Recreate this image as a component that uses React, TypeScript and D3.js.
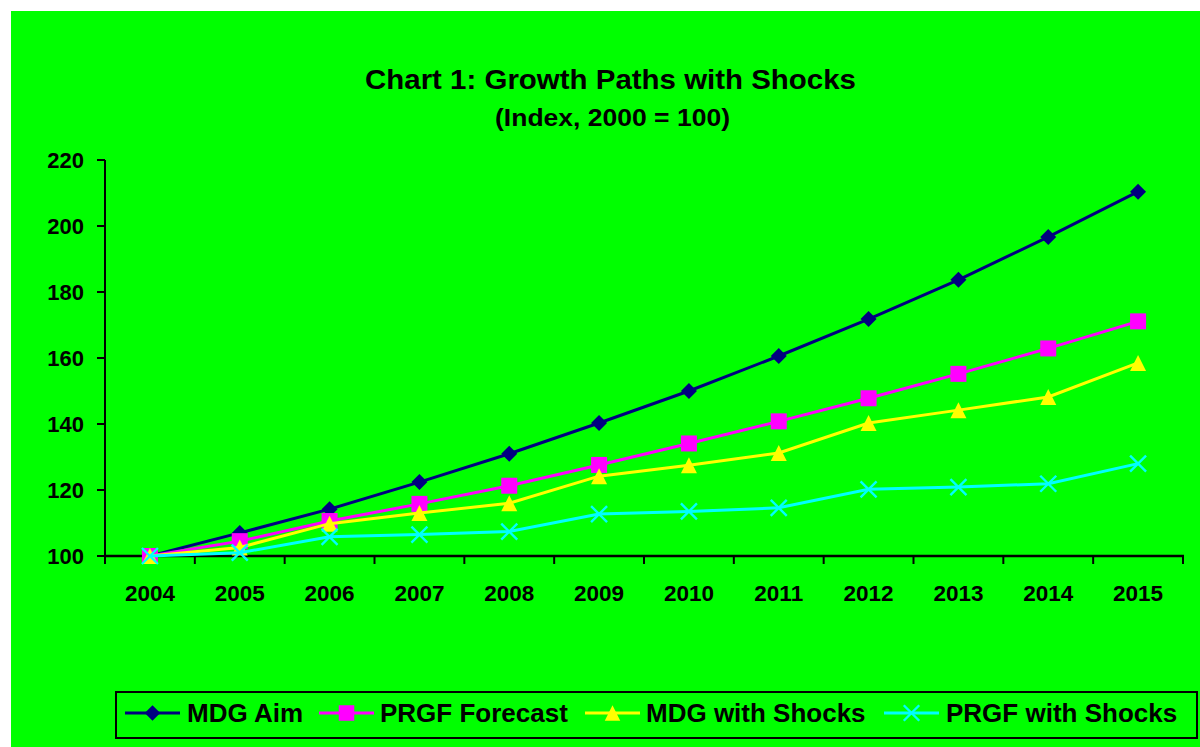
import * as d3 from "d3";

const years = ["2004", "2005", "2006", "2007", "2008", "2009", "2010", "2011", "2012", "2013", "2014", "2015"];
const mdgAim = [100, 107, 114.2, 122.4, 131, 140.3, 150, 160.6, 171.8, 183.7, 196.7, 210.4];
const prgfForecast = [100, 104.5, 110.6, 115.8, 121.3, 127.6, 134.1, 140.8, 147.8, 155.2, 162.9, 171.1];
const mdgShocks = [100, 102.6, 109.8, 113, 116, 124.2, 127.5, 131.2, 140.3, 144.2, 148.2, 158.5];
const prgfShocks = [100, 101, 105.8, 106.5, 107.4, 112.7, 113.5, 114.6, 120.2, 120.9, 121.9, 128];
const yTicks = [100, 120, 140, 160, 180, 200, 220];

const series = [
  { name: "MDG Aim", values: mdgAim, color: "#000080", marker: "diamond" },
  { name: "PRGF Forecast", values: prgfForecast, color: "#FF00FF", marker: "square" },
  { name: "MDG with Shocks", values: mdgShocks, color: "#FFFF00", marker: "triangle" },
  { name: "PRGF with Shocks", values: prgfShocks, color: "#00FFFF", marker: "x" },
];

const FONT = "Arial, 'Liberation Sans', sans-serif";

function Marker({ type, x, y, color, size }: { type: string; x: number; y: number; color: string; size: number }) {
  const h = size / 2;
  if (type === "diamond")
    return <path d={`M${x},${y - h}L${x + h},${y}L${x},${y + h}L${x - h},${y}Z`} fill={color} />;
  if (type === "square")
    return <rect x={x - h} y={y - h} width={size} height={size} fill={color} />;
  if (type === "triangle")
    return <path d={`M${x},${y - h}L${x + h},${y + h}L${x - h},${y + h}Z`} fill={color} />;
  return (
    <path
      d={`M${x - h},${y - h}L${x + h},${y + h}M${x - h},${y + h}L${x + h},${y - h}`}
      stroke={color}
      strokeWidth={2.4}
      fill="none"
    />
  );
}

export default function App() {
  const width = 1200;
  const height = 747;

  const x = d3.scaleBand().domain(years).range([105, 1183]);
  const y = d3.scaleLinear().domain([100, 220]).range([556, 160]);
  const cx = (yr: string) => (x(yr) ?? 0) + x.bandwidth() / 2;

  const line = d3
    .line<number>()
    .x((_, i) => cx(years[i]))
    .y((v) => y(v));

  // legend layout: line sample start and label start
  const legendItems = [
    { s: 125, t: 187 },
    { s: 319, t: 380 },
    { s: 585, t: 646 },
    { s: 884, t: 946 },
  ];

  return (
    <div style={{ position: "fixed", left: 0, top: 0 }}>
      <svg width={width} height={height} style={{ display: "block" }} fontFamily={FONT}>
        <rect x={0} y={0} width={width} height={height} fill="#ffffff" />
        <rect x={11} y={11} width={width - 11} height={height - 11} fill="#00FF00" />

        {/* titles */}
        <text
          x={365}
          y={89}
          fontSize={27}
          fontWeight="bold"
          textLength={491}
          lengthAdjust="spacingAndGlyphs"
        >
          Chart 1: Growth Paths with Shocks
        </text>
        <text
          x={495}
          y={126}
          fontSize={23}
          fontWeight="bold"
          textLength={235}
          lengthAdjust="spacingAndGlyphs"
        >
          (Index, 2000 = 100)
        </text>

        {/* y axis */}
        <line x1={105} x2={105} y1={y(220)} y2={y(100)} stroke="#000" strokeWidth={2} />
        {yTicks.map((t) => (
          <g key={t}>
            <line x1={97} x2={105} y1={y(t)} y2={y(t)} stroke="#000" strokeWidth={2} />
            <text x={84} y={y(t)} dy="0.36em" textAnchor="end" fontSize={22} fontWeight="bold">
              {t}
            </text>
          </g>
        ))}

        {/* x axis */}
        <line x1={104} x2={1184} y1={y(100)} y2={y(100)} stroke="#000" strokeWidth={2.5} />
        {[...years.map((yr) => x(yr) ?? 0), 1183].map((v, i) => (
          <line key={i} x1={v} x2={v} y1={y(100)} y2={y(100) + 8} stroke="#000" strokeWidth={2} />
        ))}
        {years.map((yr) => (
          <text key={yr} x={cx(yr)} y={601} textAnchor="middle" fontSize={22.5} fontWeight="bold">
            {yr}
          </text>
        ))}

        {/* series */}
        {series.map((s) => (
          <g key={s.name}>
            <path d={line(s.values) ?? ""} fill="none" stroke={s.color} strokeWidth={3} />
            {s.values.map((v, i) => (
              <Marker key={i} type={s.marker} x={cx(years[i])} y={y(v)} color={s.color} size={16} />
            ))}
          </g>
        ))}

        {/* legend */}
        <rect x={116} y={692} width={1081} height={46} fill="none" stroke="#000" strokeWidth={2} />
        {series.map((s, i) => {
          const it = legendItems[i];
          return (
            <g key={s.name}>
              <line x1={it.s} x2={it.s + 55} y1={713} y2={713} stroke={s.color} strokeWidth={3} />
              <Marker type={s.marker} x={it.s + 27.5} y={713} color={s.color} size={15.5} />
              <text x={it.t} y={722} fontSize={26} fontWeight="bold">
                {s.name}
              </text>
            </g>
          );
        })}
      </svg>
    </div>
  );
}
